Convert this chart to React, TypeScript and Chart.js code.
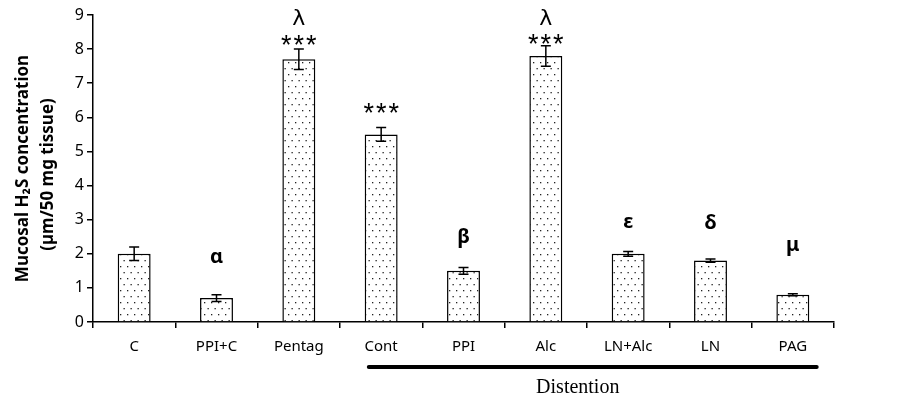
import React, { useEffect, useRef } from "react";
import { Chart, registerables } from "chart.js";
Chart.register(...registerables);

const categories = ["C", "PPI+C", "Pentag", "Cont", "PPI", "Alc", "LN+Alc", "LN", "PAG"];
const means = [2.0, 0.7, 7.7, 5.5, 1.5, 7.8, 2.0, 1.8, 0.8];
const errors = [0.2, 0.1, 0.3, 0.2, 0.1, 0.3, 0.07, 0.05, 0.03];
const starLabels = ["", "", "***", "***", "", "***", "", "", ""];
const starY = [0, 0, 8.25, 6.25, 0, 8.27, 0, 0, 0];
const greekLabels = ["", "α", "λ", "", "β", "λ", "ε", "δ", "μ"];
const greekY = [0, 1.9, 8.87, 0, 2.48, 8.87, 2.92, 2.9, 2.25];
const yMax = 9;
const yTitleLines = ["Mucosal H₂S concentration", "(µm/50 mg tissue)"];
const groupLabel = "Distention";
const groupFrom = 3;
const groupTo = 8;

function makePattern(): CanvasPattern | string {
  const c = document.createElement("canvas");
  c.width = 7;
  c.height = 12;
  const g = c.getContext("2d");
  if (!g) return "#fff";
  g.fillStyle = "#ffffff";
  g.fillRect(0, 0, 7, 12);
  g.fillStyle = "#222";
  g.fillRect(1, 2, 1.3, 1.3);
  g.fillRect(4.5, 8, 1.3, 1.3);
  const p = g.createPattern(c, "repeat");
  return p || "#fff";
}

const overlay = {
  id: "overlay",
  afterDatasetsDraw(chart: any) {
    const ctx = chart.ctx;
    const xs = chart.scales.x;
    const ys = chart.scales.y;
    ctx.save();
    ctx.strokeStyle = "#000";
    ctx.lineWidth = 1.5;
    means.forEach((m, i) => {
      const x = xs.getPixelForValue(i);
      const yt = ys.getPixelForValue(m + errors[i]);
      const yb = ys.getPixelForValue(m - errors[i]);
      ctx.beginPath();
      ctx.moveTo(x, yt);
      ctx.lineTo(x, yb);
      ctx.moveTo(x - 5, yt);
      ctx.lineTo(x + 5, yt);
      ctx.moveTo(x - 5, yb);
      ctx.lineTo(x + 5, yb);
      ctx.stroke();
    });
    ctx.fillStyle = "#000";
    ctx.textAlign = "center";
    ctx.textBaseline = "middle";
    starLabels.forEach((s, i) => {
      if (!s) return;
      ctx.font = "27px 'Liberation Sans'";
      const x = xs.getPixelForValue(i);
      const y = ys.getPixelForValue(starY[i]);
      const chars = s.split("");
      chars.forEach((ch, k) => {
        ctx.fillText(ch, x + (k - (chars.length - 1) / 2) * 12.5, y + 6);
      });
    });
    greekLabels.forEach((s, i) => {
      if (!s) return;
      ctx.font = s === "λ" ? "22px 'DejaVu Sans'" : "bold 20px 'Noto Sans'";
      const x = xs.getPixelForValue(i);
      const y = ys.getPixelForValue(greekY[i]);
      ctx.fillText(s, x, y);
    });
    ctx.restore();
  },
  afterDraw(chart: any) {
    const ctx = chart.ctx;
    const xs = chart.scales.x;
    const ys = chart.scales.y;
    const ca = chart.chartArea;
    ctx.save();
    ctx.fillStyle = "#000";
    ctx.font = "bold 17px 'Noto Sans'";
    ctx.textAlign = "center";
    ctx.textBaseline = "middle";
    const cy = (ca.top + ca.bottom) / 2;
    ctx.translate(23, cy);
    ctx.rotate(-Math.PI / 2);
    ctx.fillText(yTitleLines[0], 0, 0);
    ctx.fillText(yTitleLines[1], -6, 25);
    ctx.restore();
    ctx.save();
    const cw = xs.getPixelForValue(1) - xs.getPixelForValue(0);
    const x1 = xs.getPixelForValue(groupFrom) - 0.15 * cw;
    const x2 = xs.getPixelForValue(groupTo) + 0.29 * cw;
    const ly = ys.getPixelForValue(0) + 45;
    ctx.strokeStyle = "#000";
    ctx.lineWidth = 4;
    ctx.lineCap = "round";
    ctx.beginPath();
    ctx.moveTo(x1, ly);
    ctx.lineTo(x2, ly);
    ctx.stroke();
    ctx.fillStyle = "#000";
    ctx.font = "20px 'Liberation Serif'";
    ctx.textAlign = "center";
    ctx.textBaseline = "middle";
    ctx.fillText(groupLabel, (x1 + x2) / 2 - 15, ly + 21);
    ctx.restore();
  },
};

export default function App() {
  const ref = useRef<HTMLCanvasElement>(null);
  useEffect(() => {
    if (!ref.current) return;
    const pattern = makePattern();
    const chart = new Chart(ref.current, {
      type: "bar",
      data: {
        labels: categories,
        datasets: [
          {
            data: means,
            backgroundColor: pattern as any,
            borderColor: "#000",
            borderWidth: 1.5,
            borderSkipped: "bottom",
            categoryPercentage: 1,
            barPercentage: 0.4,
          },
        ],
      },
      options: {
        animation: false,
        responsive: false,
        layout: { padding: { top: 15, right: 72, left: 0, bottom: 0 } },
        plugins: { legend: { display: false }, tooltip: { enabled: false } },
        scales: {
          x: {
            offset: true,
            grid: { offset: true, drawOnChartArea: false, drawTicks: true, tickLength: 6, color: "#000", lineWidth: 1.5 },
            border: { display: true, color: "#000", width: 1.5 },
            ticks: { color: "#000", font: { family: "'Noto Sans'", size: 15 }, padding: 10, maxRotation: 0, autoSkip: false },
            afterFit: (s: any) => {
              s.height = 76;
            },
          },
          y: {
            min: 0,
            max: yMax,
            grid: { drawOnChartArea: false, drawTicks: true, tickLength: 6, color: "#000", lineWidth: 1.5 },
            border: { display: true, color: "#000", width: 1.5 },
            ticks: { stepSize: 1, color: "#000", font: { family: "'Noto Sans'", size: 16 }, padding: 3 },
            afterFit: (s: any) => {
              s.width = 93;
            },
          },
        },
      },
      plugins: [overlay],
    });
    return () => chart.destroy();
  }, []);
  return (
    <div style={{ position: "absolute", left: 0, top: 0, width: 906, height: 398, background: "#fff" }}>
      <canvas ref={ref} width={906} height={398} style={{ display: "block" }} />
    </div>
  );
}
